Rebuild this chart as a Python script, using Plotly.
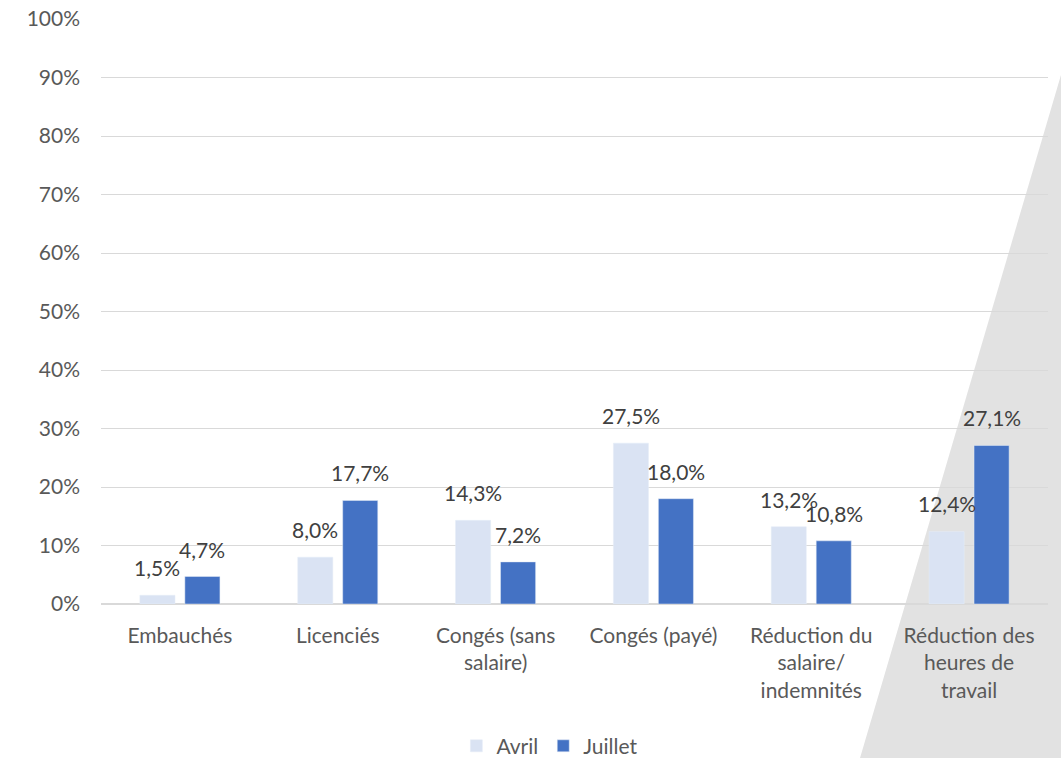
import plotly.graph_objects as go

categories = ["Embauchés", "Licenciés", "Congés (sans<br>salaire)", "Congés (payé)",
              "Réduction du<br>salaire/<br>indemnités", "Réduction des<br>heures de<br>travail"]
avril = [0.015, 0.080, 0.143, 0.275, 0.132, 0.124]
juillet = [0.047, 0.177, 0.072, 0.180, 0.108, 0.271]
tick_vals = [0, 0.1, 0.2, 0.3, 0.4, 0.5, 0.6, 0.7, 0.8, 0.9, 1.0]

font_name = "Lato"
fsize = 21
grey_txt = "#595959"

fig = go.Figure()
fig.add_trace(go.Bar(x=categories, y=avril, name="Avril", marker_color="#dae3f3"))
fig.add_trace(go.Bar(x=categories, y=juillet, name="Juillet", marker_color="#4472c4"))

# data labels sit a bit higher above the bars than plotly's own outside text
for vals, dx in [(avril, -22.5), (juillet, 22.5)]:
    for cat, v in zip(categories, vals):
        fig.add_annotation(x=cat, y=v, text=f"{v * 100:.1f}%".replace(".", ","),
                           showarrow=False, xshift=dx, yshift=13, yanchor="bottom",
                           font=dict(color="#404040", size=fsize, family=font_name))

# decorative grey wedge in the lower right corner
fig.add_shape(type="path", xref="paper", yref="paper", layer="below",
              path="M 1.0137 0.9043 L 1.0137 -0.2633 L 0.8015 -0.2633 Z",
              fillcolor="#e2e2e2", line_width=0)

fig.update_layout(
    width=1061, height=758,
    margin=dict(l=101, r=13, t=19, b=154, autoexpand=False),
    paper_bgcolor="white", plot_bgcolor="rgba(0,0,0,0)",
    separators=",.",
    barmode="group", bargap=0.43, bargroupgap=0.22,
    font=dict(family=font_name, size=fsize, color=grey_txt),
    legend=dict(orientation="h", x=0.474, xanchor="center", y=-0.243, yanchor="middle",
                font=dict(size=fsize, color=grey_txt), itemwidth=30, traceorder="normal"),
)
fig.update_yaxes(range=[0, 1], tickvals=tick_vals, tickformat=".0%", automargin=False,
                 gridcolor="#d9d9d9", gridwidth=1, zeroline=True, zerolinecolor="#d9d9d9",
                 showline=False, ticklabelstandoff=20,
                 tickfont=dict(size=fsize, color=grey_txt))
fig.update_xaxes(showline=False, ticks="", ticklabelstandoff=17, automargin=False,
                 tickfont=dict(size=fsize, color=grey_txt))

fig.write_html("out.html", config={"displayModeBar": False},
               post_script="document.body.style.margin='0';")
